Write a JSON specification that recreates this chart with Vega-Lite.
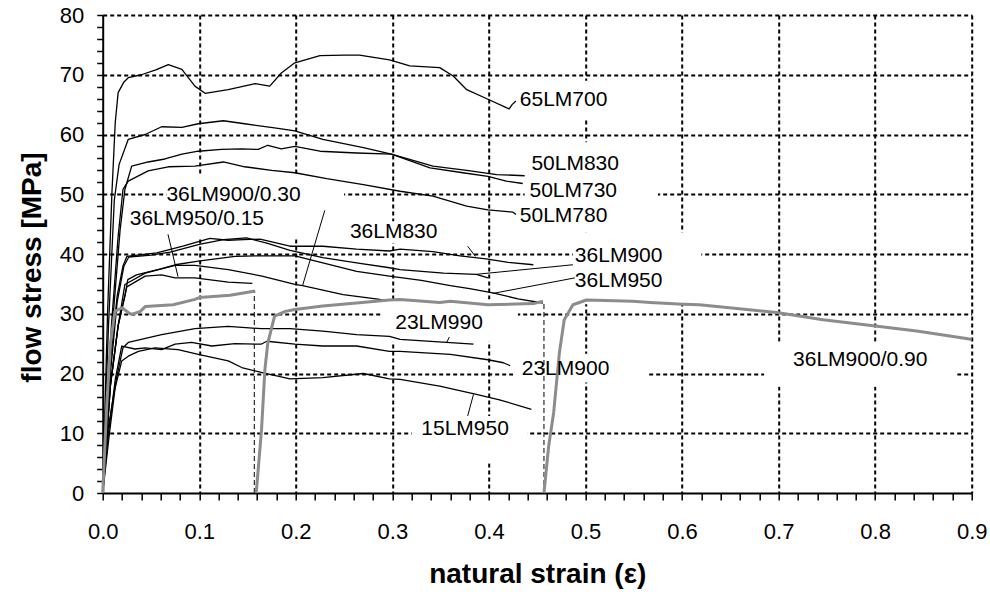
{
  "$schema": "https://vega.github.io/schema/vega-lite/v6.json",
  "width": 869,
  "height": 478,
  "autosize": {"type": "none"},
  "padding": {"left": 102.7, "top": 15, "right": 18.3, "bottom": 104},
  "background": "white",
  "config": {"view": {"stroke": null}, "font": "Liberation Sans"},
  "datasets": {
    "boxes": [
      {"x": 0.425, "x2": 0.535, "y": 62.5, "y2": 69},
      {"x": 0.437, "x2": 0.575, "y": 43.6, "y2": 58.7},
      {"x": 0.487, "x2": 0.62, "y": 31.6, "y2": 43.6},
      {"x": 0.255, "x2": 0.36, "y": 41.8, "y2": 45.5},
      {"x": 0.066, "x2": 0.25, "y": 47.7, "y2": 53.2},
      {"x": 0.026, "x2": 0.205, "y": 42.6, "y2": 47.7},
      {"x": 0.29, "x2": 0.43, "y": 25.3, "y2": 32.4},
      {"x": 0.425, "x2": 0.565, "y": 18.5, "y2": 23.3},
      {"x": 0.32, "x2": 0.44, "y": 5, "y2": 12.9},
      {"x": 0.685, "x2": 0.885, "y": 17.8, "y2": 25.3}
    ],
    "drops": [
      {"x": 0.157, "y": 0, "y2": 33.8},
      {"x": 0.457, "y": 0, "y2": 32.1}
    ],
    "leaders": [
      {"x": 0.230, "y": 47.3, "x2": 0.207, "y2": 34.7},
      {"x": 0.0676, "y": 43.3, "x2": 0.078, "y2": 36.2},
      {"x": 0.378, "y": 41.3, "x2": 0.386, "y2": 39.6},
      {"x": 0.487, "y": 38.2, "x2": 0.387, "y2": 36.6},
      {"x": 0.489, "y": 36.0, "x2": 0.404, "y2": 33.4},
      {"x": 0.359, "y": 26.1, "x2": 0.356, "y2": 25.1},
      {"x": 0.378, "y": 12.9, "x2": 0.384, "y2": 16.5}
    ],
    "labels": [
      {"t": "65LM700", "x": 0.432, "y": 65.7},
      {"t": "50LM830", "x": 0.444, "y": 55.0},
      {"t": "50LM730", "x": 0.442, "y": 50.5},
      {"t": "50LM780", "x": 0.432, "y": 46.3},
      {"t": "36LM830", "x": 0.256, "y": 43.6},
      {"t": "36LM900", "x": 0.489, "y": 39.7},
      {"t": "36LM950", "x": 0.489, "y": 35.4},
      {"t": "36LM900/0.30", "x": 0.066, "y": 49.9},
      {"t": "36LM950/0.15", "x": 0.028, "y": 45.9},
      {"t": "23LM990", "x": 0.303, "y": 28.5},
      {"t": "23LM900", "x": 0.434, "y": 20.8},
      {"t": "15LM950", "x": 0.330, "y": 10.7},
      {"t": "36LM900/0.90", "x": 0.715, "y": 22.3}
    ],
    "curves": [
      {"s": "65LM700", "k": "black", "x": 0, "y": 0},
      {"s": "65LM700", "k": "black", "x": 0.005, "y": 30},
      {"s": "65LM700", "k": "black", "x": 0.0095, "y": 50},
      {"s": "65LM700", "k": "black", "x": 0.013, "y": 62},
      {"s": "65LM700", "k": "black", "x": 0.016, "y": 67},
      {"s": "65LM700", "k": "black", "x": 0.022, "y": 68.8},
      {"s": "65LM700", "k": "black", "x": 0.0265, "y": 69.5},
      {"s": "65LM700", "k": "black", "x": 0.04, "y": 70.0},
      {"s": "65LM700", "k": "black", "x": 0.055, "y": 70.8},
      {"s": "65LM700", "k": "black", "x": 0.068, "y": 71.7},
      {"s": "65LM700", "k": "black", "x": 0.082, "y": 70.9},
      {"s": "65LM700", "k": "black", "x": 0.0955, "y": 68.1},
      {"s": "65LM700", "k": "black", "x": 0.106, "y": 66.9},
      {"s": "65LM700", "k": "black", "x": 0.13, "y": 67.5},
      {"s": "65LM700", "k": "black", "x": 0.158, "y": 68.5},
      {"s": "65LM700", "k": "black", "x": 0.173, "y": 68.1},
      {"s": "65LM700", "k": "black", "x": 0.185, "y": 70.3},
      {"s": "65LM700", "k": "black", "x": 0.199, "y": 72.0},
      {"s": "65LM700", "k": "black", "x": 0.225, "y": 73.2},
      {"s": "65LM700", "k": "black", "x": 0.25, "y": 73.3},
      {"s": "65LM700", "k": "black", "x": 0.266, "y": 73.3},
      {"s": "65LM700", "k": "black", "x": 0.297, "y": 72.5},
      {"s": "65LM700", "k": "black", "x": 0.318, "y": 71.5},
      {"s": "65LM700", "k": "black", "x": 0.349, "y": 71.2},
      {"s": "65LM700", "k": "black", "x": 0.363, "y": 69.8},
      {"s": "65LM700", "k": "black", "x": 0.377, "y": 67.5},
      {"s": "65LM700", "k": "black", "x": 0.399, "y": 65.9},
      {"s": "65LM700", "k": "black", "x": 0.418, "y": 64.5},
      {"s": "65LM700", "k": "black", "x": 0.421, "y": 64.3},
      {"s": "65LM700", "k": "black", "x": 0.424, "y": 65.0},
      {"s": "65LM700", "k": "black", "x": 0.428, "y": 65.6},

      {"s": "50LM830", "k": "black", "x": 0, "y": 0},
      {"s": "50LM830", "k": "black", "x": 0.006, "y": 28},
      {"s": "50LM830", "k": "black", "x": 0.012, "y": 49},
      {"s": "50LM830", "k": "black", "x": 0.017, "y": 55},
      {"s": "50LM830", "k": "black", "x": 0.0265, "y": 59.2},
      {"s": "50LM830", "k": "black", "x": 0.044, "y": 60.0},
      {"s": "50LM830", "k": "black", "x": 0.061, "y": 61.3},
      {"s": "50LM830", "k": "black", "x": 0.082, "y": 61.2},
      {"s": "50LM830", "k": "black", "x": 0.099, "y": 61.8},
      {"s": "50LM830", "k": "black", "x": 0.125, "y": 62.3},
      {"s": "50LM830", "k": "black", "x": 0.147, "y": 61.8},
      {"s": "50LM830", "k": "black", "x": 0.178, "y": 61.1},
      {"s": "50LM830", "k": "black", "x": 0.199, "y": 60.6},
      {"s": "50LM830", "k": "black", "x": 0.228, "y": 59.2},
      {"s": "50LM830", "k": "black", "x": 0.27, "y": 57.8},
      {"s": "50LM830", "k": "black", "x": 0.299, "y": 56.7},
      {"s": "50LM830", "k": "black", "x": 0.342, "y": 54.7},
      {"s": "50LM830", "k": "black", "x": 0.377, "y": 54.0},
      {"s": "50LM830", "k": "black", "x": 0.408, "y": 53.3},
      {"s": "50LM830", "k": "black", "x": 0.437, "y": 53.1},

      {"s": "50LM730", "k": "black", "x": 0, "y": 0},
      {"s": "50LM730", "k": "black", "x": 0.01, "y": 28},
      {"s": "50LM730", "k": "black", "x": 0.018, "y": 44},
      {"s": "50LM730", "k": "black", "x": 0.023, "y": 50.8},
      {"s": "50LM730", "k": "black", "x": 0.03, "y": 54.7},
      {"s": "50LM730", "k": "black", "x": 0.047, "y": 55.4},
      {"s": "50LM730", "k": "black", "x": 0.0645, "y": 55.9},
      {"s": "50LM730", "k": "black", "x": 0.082, "y": 56.7},
      {"s": "50LM730", "k": "black", "x": 0.099, "y": 57.2},
      {"s": "50LM730", "k": "black", "x": 0.123, "y": 57.5},
      {"s": "50LM730", "k": "black", "x": 0.144, "y": 57.6},
      {"s": "50LM730", "k": "black", "x": 0.161, "y": 57.5},
      {"s": "50LM730", "k": "black", "x": 0.171, "y": 58.2},
      {"s": "50LM730", "k": "black", "x": 0.185, "y": 57.6},
      {"s": "50LM730", "k": "black", "x": 0.199, "y": 58.0},
      {"s": "50LM730", "k": "black", "x": 0.225, "y": 57.2},
      {"s": "50LM730", "k": "black", "x": 0.263, "y": 56.9},
      {"s": "50LM730", "k": "black", "x": 0.299, "y": 56.7},
      {"s": "50LM730", "k": "black", "x": 0.339, "y": 54.4},
      {"s": "50LM730", "k": "black", "x": 0.373, "y": 53.6},
      {"s": "50LM730", "k": "black", "x": 0.399, "y": 53.0},
      {"s": "50LM730", "k": "black", "x": 0.418, "y": 52.2},
      {"s": "50LM730", "k": "black", "x": 0.435, "y": 51.8},

      {"s": "50LM780", "k": "black", "x": 0, "y": 0},
      {"s": "50LM780", "k": "black", "x": 0.009, "y": 28},
      {"s": "50LM780", "k": "black", "x": 0.016, "y": 43},
      {"s": "50LM780", "k": "black", "x": 0.021, "y": 50.8},
      {"s": "50LM780", "k": "black", "x": 0.0265, "y": 52.2},
      {"s": "50LM780", "k": "black", "x": 0.047, "y": 53.9},
      {"s": "50LM780", "k": "black", "x": 0.068, "y": 54.6},
      {"s": "50LM780", "k": "black", "x": 0.0955, "y": 54.7},
      {"s": "50LM780", "k": "black", "x": 0.125, "y": 55.4},
      {"s": "50LM780", "k": "black", "x": 0.147, "y": 54.6},
      {"s": "50LM780", "k": "black", "x": 0.175, "y": 54.0},
      {"s": "50LM780", "k": "black", "x": 0.199, "y": 53.6},
      {"s": "50LM780", "k": "black", "x": 0.232, "y": 52.6},
      {"s": "50LM780", "k": "black", "x": 0.27, "y": 51.6},
      {"s": "50LM780", "k": "black", "x": 0.308, "y": 50.5},
      {"s": "50LM780", "k": "black", "x": 0.342, "y": 49.7},
      {"s": "50LM780", "k": "black", "x": 0.377, "y": 48.0},
      {"s": "50LM780", "k": "black", "x": 0.399, "y": 47.4},
      {"s": "50LM780", "k": "black", "x": 0.425, "y": 47.0},
      {"s": "50LM780", "k": "black", "x": 0.428, "y": 46.6},

      {"s": "36LM830", "k": "black", "x": 0, "y": 0},
      {"s": "36LM830", "k": "black", "x": 0.008, "y": 22},
      {"s": "36LM830", "k": "black", "x": 0.015, "y": 33},
      {"s": "36LM830", "k": "black", "x": 0.021, "y": 38},
      {"s": "36LM830", "k": "black", "x": 0.025, "y": 39.6},
      {"s": "36LM830", "k": "black", "x": 0.056, "y": 40.2},
      {"s": "36LM830", "k": "black", "x": 0.083, "y": 41.3},
      {"s": "36LM830", "k": "black", "x": 0.111, "y": 42.6},
      {"s": "36LM830", "k": "black", "x": 0.13, "y": 42.3},
      {"s": "36LM830", "k": "black", "x": 0.146, "y": 42.4},
      {"s": "36LM830", "k": "black", "x": 0.163, "y": 42.5},
      {"s": "36LM830", "k": "black", "x": 0.194, "y": 41.3},
      {"s": "36LM830", "k": "black", "x": 0.228, "y": 41.3},
      {"s": "36LM830", "k": "black", "x": 0.263, "y": 40.8},
      {"s": "36LM830", "k": "black", "x": 0.297, "y": 40.5},
      {"s": "36LM830", "k": "black", "x": 0.308, "y": 40.8},
      {"s": "36LM830", "k": "black", "x": 0.342, "y": 40.4},
      {"s": "36LM830", "k": "black", "x": 0.37, "y": 39.7},
      {"s": "36LM830", "k": "black", "x": 0.397, "y": 39.2},
      {"s": "36LM830", "k": "black", "x": 0.42, "y": 38.6},
      {"s": "36LM830", "k": "black", "x": 0.446, "y": 38.2},

      {"s": "36LM900", "k": "black", "x": 0, "y": 0},
      {"s": "36LM900", "k": "black", "x": 0.008, "y": 20},
      {"s": "36LM900", "k": "black", "x": 0.015, "y": 32},
      {"s": "36LM900", "k": "black", "x": 0.022, "y": 38},
      {"s": "36LM900", "k": "black", "x": 0.027, "y": 39.5},
      {"s": "36LM900", "k": "black", "x": 0.05, "y": 39.8},
      {"s": "36LM900", "k": "black", "x": 0.07, "y": 40.3},
      {"s": "36LM900", "k": "black", "x": 0.1, "y": 41.6},
      {"s": "36LM900", "k": "black", "x": 0.125, "y": 42.4},
      {"s": "36LM900", "k": "black", "x": 0.149, "y": 42.7},
      {"s": "36LM900", "k": "black", "x": 0.17, "y": 41.8},
      {"s": "36LM900", "k": "black", "x": 0.194, "y": 40.6},
      {"s": "36LM900", "k": "black", "x": 0.228, "y": 39.4},
      {"s": "36LM900", "k": "black", "x": 0.263, "y": 38.5},
      {"s": "36LM900", "k": "black", "x": 0.297, "y": 37.7},
      {"s": "36LM900", "k": "black", "x": 0.308, "y": 37.4},
      {"s": "36LM900", "k": "black", "x": 0.353, "y": 36.8},
      {"s": "36LM900", "k": "black", "x": 0.387, "y": 36.6},
      {"s": "36LM900", "k": "black", "x": 0.399, "y": 36.0},

      {"s": "36LM950", "k": "black", "x": 0, "y": 0},
      {"s": "36LM950", "k": "black", "x": 0.008, "y": 18},
      {"s": "36LM950", "k": "black", "x": 0.016, "y": 28},
      {"s": "36LM950", "k": "black", "x": 0.023, "y": 33},
      {"s": "36LM950", "k": "black", "x": 0.026, "y": 35.7},
      {"s": "36LM950", "k": "black", "x": 0.035, "y": 36.5},
      {"s": "36LM950", "k": "black", "x": 0.06, "y": 37.5},
      {"s": "36LM950", "k": "black", "x": 0.075, "y": 38.2},
      {"s": "36LM950", "k": "black", "x": 0.099, "y": 38.8},
      {"s": "36LM950", "k": "black", "x": 0.137, "y": 39.6},
      {"s": "36LM950", "k": "black", "x": 0.164, "y": 39.7},
      {"s": "36LM950", "k": "black", "x": 0.199, "y": 39.7},
      {"s": "36LM950", "k": "black", "x": 0.228, "y": 38.5},
      {"s": "36LM950", "k": "black", "x": 0.263, "y": 37.1},
      {"s": "36LM950", "k": "black", "x": 0.297, "y": 36.3},
      {"s": "36LM950", "k": "black", "x": 0.33, "y": 35.6},
      {"s": "36LM950", "k": "black", "x": 0.36, "y": 34.7},
      {"s": "36LM950", "k": "black", "x": 0.38, "y": 34.2},
      {"s": "36LM950", "k": "black", "x": 0.404, "y": 33.5},
      {"s": "36LM950", "k": "black", "x": 0.43, "y": 32.5},
      {"s": "36LM950", "k": "black", "x": 0.456, "y": 31.8},

      {"s": "36LM900/0.30", "k": "black", "x": 0, "y": 0},
      {"s": "36LM900/0.30", "k": "black", "x": 0.008, "y": 18},
      {"s": "36LM900/0.30", "k": "black", "x": 0.016, "y": 28},
      {"s": "36LM900/0.30", "k": "black", "x": 0.023, "y": 34.9},
      {"s": "36LM900/0.30", "k": "black", "x": 0.044, "y": 36.8},
      {"s": "36LM900/0.30", "k": "black", "x": 0.075, "y": 38.1},
      {"s": "36LM900/0.30", "k": "black", "x": 0.0955, "y": 38.1},
      {"s": "36LM900/0.30", "k": "black", "x": 0.13, "y": 37.4},
      {"s": "36LM900/0.30", "k": "black", "x": 0.165, "y": 36.3},
      {"s": "36LM900/0.30", "k": "black", "x": 0.199, "y": 34.9},
      {"s": "36LM900/0.30", "k": "black", "x": 0.207, "y": 34.7},
      {"s": "36LM900/0.30", "k": "black", "x": 0.249, "y": 33.2},
      {"s": "36LM900/0.30", "k": "black", "x": 0.287, "y": 32.4},
      {"s": "36LM900/0.30", "k": "black", "x": 0.30, "y": 32.3},

      {"s": "36LM950/0.15", "k": "black", "x": 0, "y": 0},
      {"s": "36LM950/0.15", "k": "black", "x": 0.008, "y": 18},
      {"s": "36LM950/0.15", "k": "black", "x": 0.016, "y": 28},
      {"s": "36LM950/0.15", "k": "black", "x": 0.025, "y": 34.5},
      {"s": "36LM950/0.15", "k": "black", "x": 0.044, "y": 36.3},
      {"s": "36LM950/0.15", "k": "black", "x": 0.061, "y": 36.5},
      {"s": "36LM950/0.15", "k": "black", "x": 0.075, "y": 36.0},
      {"s": "36LM950/0.15", "k": "black", "x": 0.0955, "y": 36.0},
      {"s": "36LM950/0.15", "k": "black", "x": 0.13, "y": 35.3},
      {"s": "36LM950/0.15", "k": "black", "x": 0.155, "y": 35.1},

      {"s": "23LM990", "k": "black", "x": 0, "y": 0},
      {"s": "23LM990", "k": "black", "x": 0.007, "y": 10},
      {"s": "23LM990", "k": "black", "x": 0.014, "y": 19},
      {"s": "23LM990", "k": "black", "x": 0.021, "y": 24.3},
      {"s": "23LM990", "k": "black", "x": 0.0265, "y": 25.2},
      {"s": "23LM990", "k": "black", "x": 0.061, "y": 26.5},
      {"s": "23LM990", "k": "black", "x": 0.0955, "y": 27.5},
      {"s": "23LM990", "k": "black", "x": 0.13, "y": 27.9},
      {"s": "23LM990", "k": "black", "x": 0.164, "y": 27.5},
      {"s": "23LM990", "k": "black", "x": 0.194, "y": 27.5},
      {"s": "23LM990", "k": "black", "x": 0.228, "y": 27.1},
      {"s": "23LM990", "k": "black", "x": 0.263, "y": 26.5},
      {"s": "23LM990", "k": "black", "x": 0.297, "y": 26.2},
      {"s": "23LM990", "k": "black", "x": 0.308, "y": 25.7},
      {"s": "23LM990", "k": "black", "x": 0.356, "y": 25.2},
      {"s": "23LM990", "k": "black", "x": 0.384, "y": 24.9},

      {"s": "23LM900", "k": "black", "x": 0, "y": 0},
      {"s": "23LM900", "k": "black", "x": 0.006, "y": 10},
      {"s": "23LM900", "k": "black", "x": 0.013, "y": 19},
      {"s": "23LM900", "k": "black", "x": 0.0197, "y": 24.6},
      {"s": "23LM900", "k": "black", "x": 0.0335, "y": 24.1},
      {"s": "23LM900", "k": "black", "x": 0.044, "y": 24.3},
      {"s": "23LM900", "k": "black", "x": 0.061, "y": 24.0},
      {"s": "23LM900", "k": "black", "x": 0.075, "y": 24.9},
      {"s": "23LM900", "k": "black", "x": 0.092, "y": 25.2},
      {"s": "23LM900", "k": "black", "x": 0.113, "y": 24.6},
      {"s": "23LM900", "k": "black", "x": 0.137, "y": 25.0},
      {"s": "23LM900", "k": "black", "x": 0.164, "y": 24.9},
      {"s": "23LM900", "k": "black", "x": 0.17, "y": 25.4},
      {"s": "23LM900", "k": "black", "x": 0.199, "y": 24.9},
      {"s": "23LM900", "k": "black", "x": 0.228, "y": 24.6},
      {"s": "23LM900", "k": "black", "x": 0.263, "y": 24.6},
      {"s": "23LM900", "k": "black", "x": 0.297, "y": 23.7},
      {"s": "23LM900", "k": "black", "x": 0.308, "y": 23.7},
      {"s": "23LM900", "k": "black", "x": 0.36, "y": 23.2},
      {"s": "23LM900", "k": "black", "x": 0.399, "y": 22.3},
      {"s": "23LM900", "k": "black", "x": 0.415, "y": 21.8},
      {"s": "23LM900", "k": "black", "x": 0.422, "y": 21.3},

      {"s": "15LM950", "k": "black", "x": 0, "y": 0},
      {"s": "15LM950", "k": "black", "x": 0.0055, "y": 10.6},
      {"s": "15LM950", "k": "black", "x": 0.012, "y": 17},
      {"s": "15LM950", "k": "black", "x": 0.0197, "y": 22.1},
      {"s": "15LM950", "k": "black", "x": 0.0265, "y": 22.9},
      {"s": "15LM950", "k": "black", "x": 0.037, "y": 23.7},
      {"s": "15LM950", "k": "black", "x": 0.054, "y": 24.3},
      {"s": "15LM950", "k": "black", "x": 0.078, "y": 24.0},
      {"s": "15LM950", "k": "black", "x": 0.099, "y": 23.2},
      {"s": "15LM950", "k": "black", "x": 0.13, "y": 22.1},
      {"s": "15LM950", "k": "black", "x": 0.144, "y": 21.0},
      {"s": "15LM950", "k": "black", "x": 0.164, "y": 20.2},
      {"s": "15LM950", "k": "black", "x": 0.194, "y": 19.1},
      {"s": "15LM950", "k": "black", "x": 0.228, "y": 19.3},
      {"s": "15LM950", "k": "black", "x": 0.27, "y": 20.0},
      {"s": "15LM950", "k": "black", "x": 0.297, "y": 19.1},
      {"s": "15LM950", "k": "black", "x": 0.308, "y": 19.0},
      {"s": "15LM950", "k": "black", "x": 0.349, "y": 17.9},
      {"s": "15LM950", "k": "black", "x": 0.387, "y": 16.5},
      {"s": "15LM950", "k": "black", "x": 0.411, "y": 15.6},
      {"s": "15LM950", "k": "black", "x": 0.444, "y": 14.0},

      {"s": "36LM900/0.90 a", "k": "grey", "x": 0, "y": 0},
      {"s": "36LM900/0.90 a", "k": "grey", "x": 0.004, "y": 14},
      {"s": "36LM900/0.90 a", "k": "grey", "x": 0.008, "y": 25},
      {"s": "36LM900/0.90 a", "k": "grey", "x": 0.0127, "y": 30.4},
      {"s": "36LM900/0.90 a", "k": "grey", "x": 0.02, "y": 31.0},
      {"s": "36LM900/0.90 a", "k": "grey", "x": 0.0265, "y": 30.2},
      {"s": "36LM900/0.90 a", "k": "grey", "x": 0.03, "y": 29.9},
      {"s": "36LM900/0.90 a", "k": "grey", "x": 0.039, "y": 30.4},
      {"s": "36LM900/0.90 a", "k": "grey", "x": 0.044, "y": 31.2},
      {"s": "36LM900/0.90 a", "k": "grey", "x": 0.073, "y": 31.5},
      {"s": "36LM900/0.90 a", "k": "grey", "x": 0.0955, "y": 32.4},
      {"s": "36LM900/0.90 a", "k": "grey", "x": 0.1, "y": 32.7},
      {"s": "36LM900/0.90 a", "k": "grey", "x": 0.132, "y": 33.1},
      {"s": "36LM900/0.90 a", "k": "grey", "x": 0.158, "y": 33.8},

      {"s": "36LM900/0.90 b", "k": "grey", "x": 0.159, "y": 0},
      {"s": "36LM900/0.90 b", "k": "grey", "x": 0.1645, "y": 10.6},
      {"s": "36LM900/0.90 b", "k": "grey", "x": 0.168, "y": 20.7},
      {"s": "36LM900/0.90 b", "k": "grey", "x": 0.171, "y": 25.1},
      {"s": "36LM900/0.90 b", "k": "grey", "x": 0.178, "y": 29.6},
      {"s": "36LM900/0.90 b", "k": "grey", "x": 0.189, "y": 30.4},
      {"s": "36LM900/0.90 b", "k": "grey", "x": 0.199, "y": 30.7},
      {"s": "36LM900/0.90 b", "k": "grey", "x": 0.228, "y": 31.3},
      {"s": "36LM900/0.90 b", "k": "grey", "x": 0.263, "y": 31.8},
      {"s": "36LM900/0.90 b", "k": "grey", "x": 0.297, "y": 32.3},
      {"s": "36LM900/0.90 b", "k": "grey", "x": 0.308, "y": 32.4},
      {"s": "36LM900/0.90 b", "k": "grey", "x": 0.349, "y": 31.9},
      {"s": "36LM900/0.90 b", "k": "grey", "x": 0.36, "y": 32.1},
      {"s": "36LM900/0.90 b", "k": "grey", "x": 0.399, "y": 31.5},
      {"s": "36LM900/0.90 b", "k": "grey", "x": 0.446, "y": 31.7},
      {"s": "36LM900/0.90 b", "k": "grey", "x": 0.456, "y": 32.1},

      {"s": "36LM900/0.90 c", "k": "grey", "x": 0.457, "y": 0},
      {"s": "36LM900/0.90 c", "k": "grey", "x": 0.462, "y": 8},
      {"s": "36LM900/0.90 c", "k": "grey", "x": 0.467, "y": 13.4},
      {"s": "36LM900/0.90 c", "k": "grey", "x": 0.473, "y": 23.5},
      {"s": "36LM900/0.90 c", "k": "grey", "x": 0.478, "y": 29.0},
      {"s": "36LM900/0.90 c", "k": "grey", "x": 0.487, "y": 31.5},
      {"s": "36LM900/0.90 c", "k": "grey", "x": 0.501, "y": 32.3},
      {"s": "36LM900/0.90 c", "k": "grey", "x": 0.549, "y": 32.1},
      {"s": "36LM900/0.90 c", "k": "grey", "x": 0.567, "y": 31.9},
      {"s": "36LM900/0.90 c", "k": "grey", "x": 0.601, "y": 31.6},
      {"s": "36LM900/0.90 c", "k": "grey", "x": 0.618, "y": 31.5},
      {"s": "36LM900/0.90 c", "k": "grey", "x": 0.698, "y": 30.2},
      {"s": "36LM900/0.90 c", "k": "grey", "x": 0.746, "y": 29.0},
      {"s": "36LM900/0.90 c", "k": "grey", "x": 0.798, "y": 28.0},
      {"s": "36LM900/0.90 c", "k": "grey", "x": 0.843, "y": 27.1},
      {"s": "36LM900/0.90 c", "k": "grey", "x": 0.896, "y": 25.8},
      {"s": "36LM900/0.90 c", "k": "grey", "x": 0.9, "y": 25.7}
    ]
  },
  "encoding": {
    "x": {
      "field": "x", "type": "quantitative",
      "scale": {"domain": [0, 0.9], "nice": false, "zero": false},
      "axis": {
        "values": [0,0.02,0.04,0.06,0.08,0.1,0.12,0.14,0.16,0.18,0.2,0.22,0.24,0.26,0.28,0.3,0.32,0.34,0.36,0.38,0.4,0.42,0.44,0.46,0.48,0.5,0.52,0.54,0.56,0.58,0.6,0.62,0.64,0.66,0.68,0.7,0.72,0.74,0.76,0.78,0.8,0.82,0.84,0.86,0.88,0.9],
        "labelExpr": "abs(datum.value*10-round(datum.value*10))<0.001 ? format(datum.value,'.1f') : ''",
        "labelFont": "Liberation Sans", "labelFontSize": 22, "labelColor": "black",
        "labelPadding": 21, "labelFlush": false, "labelOverlap": false,
        "tickSize": 7, "tickColor": "black", "tickWidth": 1.5,
        "domainColor": "black", "domainWidth": 2,
        "grid": true, "gridColor": "black", "gridWidth": 2, "gridDash": [4, 3],
        "gridOpacity": {"condition": {"test": "abs(datum.value*10-round(datum.value*10))<0.001 && datum.value>0", "value": 1}, "value": 0},
        "title": "natural strain (ε)",
        "titleFont": "Liberation Sans", "titleFontSize": 28, "titleFontWeight": "bold", "titleColor": "black",
        "titleBaseline": "alphabetic", "titleY": 89
      }
    },
    "y": {
      "field": "y", "type": "quantitative",
      "scale": {"domain": [0, 80], "nice": false},
      "axis": {
        "values": [0,2,4,6,8,10,12,14,16,18,20,22,24,26,28,30,32,34,36,38,40,42,44,46,48,50,52,54,56,58,60,62,64,66,68,70,72,74,76,78,80],
        "labelExpr": "abs(datum.value/10-round(datum.value/10))<0.001 ? format(datum.value,'d') : ''",
        "labelFont": "Liberation Sans", "labelFontSize": 22, "labelColor": "black",
        "labelPadding": 13, "labelFlush": false, "labelOverlap": false,
        "tickSize": 6, "tickColor": "black", "tickWidth": 1.5,
        "domainColor": "black", "domainWidth": 2,
        "grid": true, "gridColor": "black", "gridWidth": 2, "gridDash": [4, 3],
        "gridOpacity": {"condition": {"test": "abs(datum.value/10-round(datum.value/10))<0.001 && datum.value>0", "value": 1}, "value": 0},
        "title": "flow stress [MPa]",
        "titleFont": "Liberation Sans", "titleFontSize": 28, "titleFontWeight": "bold", "titleColor": "black",
        "titleBaseline": "alphabetic", "titleX": -62, "titleY": 252
      }
    }
  },
  "layer": [
    {
      "data": {"name": "boxes"},
      "mark": {"type": "rect", "fill": "white"},
      "encoding": {
        "x2": {"field": "x2"},
        "y2": {"field": "y2"}
      }
    },
    {
      "data": {"name": "drops"},
      "mark": {"type": "rule", "color": "black", "strokeWidth": 1, "strokeDash": [5, 3]},
      "encoding": {
        "y2": {"field": "y2"}
      }
    },
    {
      "data": {"name": "leaders"},
      "mark": {"type": "rule", "color": "black", "strokeWidth": 1},
      "encoding": {
        "x2": {"field": "x2"},
        "y2": {"field": "y2"}
      }
    },
    {
      "data": {"name": "curves"},
      "mark": {"type": "line", "strokeJoin": "round"},
      "encoding": {
        "detail": {"field": "s", "type": "nominal"},
        "color": {"field": "k", "type": "nominal", "scale": {"domain": ["black", "grey"], "range": ["#000000", "#8c8c8c"]}, "legend": null},
        "strokeWidth": {"field": "k", "type": "ordinal", "scale": {"domain": ["black", "grey"], "range": [1.3, 3]}, "legend": null}
      }
    },
    {
      "data": {"name": "labels"},
      "mark": {"type": "text", "align": "left", "baseline": "middle", "font": "Liberation Sans", "fontSize": 21, "color": "black"},
      "encoding": {
        "text": {"field": "t", "type": "nominal"}
      }
    }
  ]
}
